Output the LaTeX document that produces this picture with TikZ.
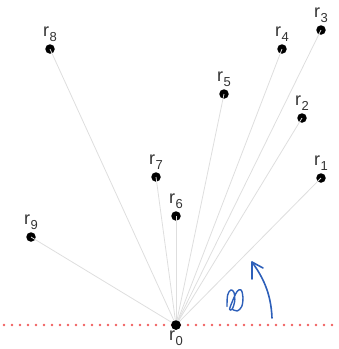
\documentclass[tikz,border=0pt]{standalone}
\usepackage{fontspec}
\setmainfont{Liberation Sans}
\newcommand{\rsub}[1]{r\kern0.3pt\raisebox{-4.5pt}{\fontsize{13}{13}\selectfont #1}}
\begin{document}
\begin{tikzpicture}[x=1pt,y=-1pt,
  ray/.style={draw=black!13, line width=0.8pt},
  pt/.style={circle, fill=black, inner sep=0pt, minimum size=9.5pt},
  lbl/.style={inner sep=0pt, font=\fontsize{18}{20}\selectfont, text=black!80},
  hand/.style={draw={rgb,255:red,45;green,95;blue,185}, line width=1.6pt, line cap=round, line join=round},
  axis/.style={draw={rgb,255:red,240;green,95;blue,95}, line width=2.6pt, line cap=round, dash pattern=on 0pt off 8pt}]
\useasboundingbox (0,0) rectangle (339,349);

% horizontal reference axis through the origin
\coordinate (axL) at (4,325);
\coordinate (axR) at (339,325);
\draw[axis] (axL) -- (axR);

% points
\node[pt] (r0) at (176,325) {};
\node[pt] (r1) at (321,178) {};
\node[pt] (r2) at (302,118) {};
\node[pt] (r3) at (321,30) {};
\node[pt] (r4) at (282,49) {};
\node[pt] (r5) at (224,94) {};
\node[pt] (r6) at (176,216) {};
\node[pt] (r7) at (156,177) {};
\node[pt] (r8) at (50,49) {};
\node[pt] (r9) at (31,237) {};

% rays from the origin
\foreach \i in {1,...,9} \draw[ray] (r0.center) -- (r\i.center);
\node[pt] at (r0) {};

% labels
\node[lbl] (l0) at (176,338) {\rsub{0}};
\node[lbl] (l1) at (321,163) {\rsub{1}};
\node[lbl] (l2) at (302,103) {\rsub{2}};
\node[lbl] (l3) at (321,15) {\rsub{3}};
\node[lbl] (l4) at (282,34) {\rsub{4}};
\node[lbl] (l5) at (224,79) {\rsub{5}};
\node[lbl] (l6) at (176,201) {\rsub{6}};
\node[lbl] (l7) at (156,162) {\rsub{7}};
\node[lbl] (l8) at (50,34) {\rsub{8}};
\node[lbl] (l9) at (31,222) {\rsub{9}};

% hand-drawn angle arrow
\coordinate (aS) at (272,318);
\coordinate (aT) at (252,262);
\draw[hand] (aS) .. controls (271,292) and (262,276) .. (aT);
\draw[hand] (252,279) -- (aT) -- (263,268);

% hand-drawn theta
\draw[hand, line width=1.4pt] plot[smooth, tension=0.6] coordinates {
  (227,306.5) (227.6,295.1) (230.8,290) (234,292.5) (234.7,301.5) (232.1,309.1)
  (229.6,309.1) (233.4,298.9) (237.2,291.3) (241.1,290) (243,297.6)
  (241.7,306.5) (237.2,311) (232.1,309.1)};
\end{tikzpicture}
\end{document}
